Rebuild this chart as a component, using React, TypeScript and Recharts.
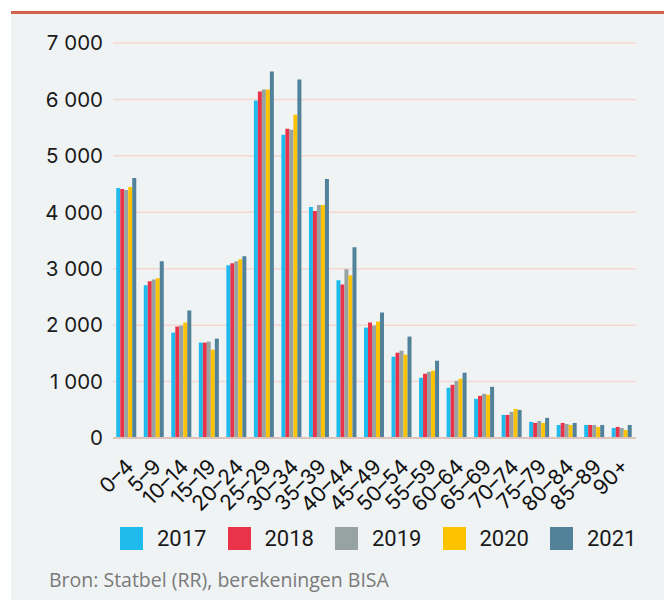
import React from 'react';
import { BarChart, Bar, XAxis, YAxis, CartesianGrid } from 'recharts';

const AGE_GROUPS = ['0–4', '5–9', '10–14', '15–19', '20–24', '25–29', '30–34', '35–39', '40–44', '45–49', '50–54', '55–59', '60–64', '65–69', '70–74', '75–79', '80–84', '85–89', '90+'];

const Y2017 = [4430, 2705, 1868, 1690, 3060, 5979, 5374, 4093, 2794, 1957, 1441, 1068, 890, 694, 409, 285, 231, 231, 178];
const Y2018 = [4413, 2776, 1975, 1690, 3096, 6139, 5480, 4021, 2722, 2046, 1512, 1139, 943, 747, 409, 267, 267, 231, 196];
const Y2019 = [4395, 2811, 1993, 1708, 3132, 6174, 5462, 4128, 2989, 1993, 1548, 1174, 1014, 783, 463, 303, 249, 231, 178];
const Y2020 = [4448, 2829, 2046, 1566, 3167, 6174, 5730, 4128, 2883, 2064, 1477, 1192, 1050, 765, 516, 267, 231, 196, 142];
const Y2021 = [4608, 3132, 2260, 1762, 3221, 6495, 6352, 4591, 3381, 2224, 1797, 1370, 1157, 907, 498, 356, 267, 231, 231];

const Y_TICKS = [0, 1000, 2000, 3000, 4000, 5000, 6000, 7000];

const SERIES = [
  { key: '2017', color: '#1fbbec' },
  { key: '2018', color: '#e8334a' },
  { key: '2019', color: '#96a3a2' },
  { key: '2020', color: '#fdc300' },
  { key: '2021', color: '#52819a' },
];

const data = AGE_GROUPS.map((age, i) => ({
  age,
  '2017': Y2017[i],
  '2018': Y2018[i],
  '2019': Y2019[i],
  '2020': Y2020[i],
  '2021': Y2021[i],
}));

const fmt = (v: number) => (v === 0 ? '0' : `${Math.floor(v / 1000)} ${String(v % 1000).padStart(3, '0')}`);

function AgeTick({ x, y, payload }: any) {
  const tx = x + 8;
  const ty = y + 22;
  return (
    <text x={tx} y={ty} transform={`rotate(-45 ${tx} ${ty})`} textAnchor="end"
      fontFamily="Inter" fontSize={21} fill="#111">
      {payload.value}
    </text>
  );
}

export default function App() {
  return (
    <div style={{ position: 'absolute', left: 11, top: 11, width: 653, height: 589, background: '#eff3f4', borderTop: '3px solid #d2634e', boxSizing: 'border-box' }}>
      <div style={{ position: 'absolute', left: 0, top: -3 }}>
        <BarChart width={653} height={540} data={data} margin={{ top: 32, right: 28, left: 0, bottom: 0 }}
          barCategoryGap={3.25} barGap={0} style={{ overflow: 'visible' }}>
          <CartesianGrid horizontal vertical={false} stroke="#f4d8cf" strokeWidth={1.5} />
          <XAxis dataKey="age" interval={0} tickLine={false} axisLine={{ stroke: '#dcc3bb', strokeWidth: 2 }}
            height={113} tick={<AgeTick />} />
          <YAxis domain={[0, 7000]} ticks={Y_TICKS} width={102} axisLine={false} tickLine={false}
            tickFormatter={fmt} tickMargin={4}
            tick={{ fontFamily: 'Inter', fontSize: 20.5, fill: '#1a1a1a' }} />
          {SERIES.map((s) => (
            <Bar key={s.key} dataKey={s.key} fill={s.color} isAnimationActive={false} />
          ))}
        </BarChart>
      </div>
      <div style={{ position: 'absolute', top: 512, left: 109, display: 'flex', fontFamily: 'Roboto', fontSize: 22, color: '#1a1a1a' }}>
        {SERIES.map((s) => (
          <div key={s.key} style={{ display: 'flex', alignItems: 'center', width: 107.5 }}>
            <div style={{ width: 23, height: 23, background: s.color, marginRight: 14 }} />
            <span>{s.key}</span>
          </div>
        ))}
      </div>
      <div style={{ position: 'absolute', top: 552, left: 38, fontFamily: 'Open Sans', fontSize: 19.5, color: '#7a7a7a' }}>
        Bron: Statbel (RR), berekeningen BISA
      </div>
    </div>
  );
}
